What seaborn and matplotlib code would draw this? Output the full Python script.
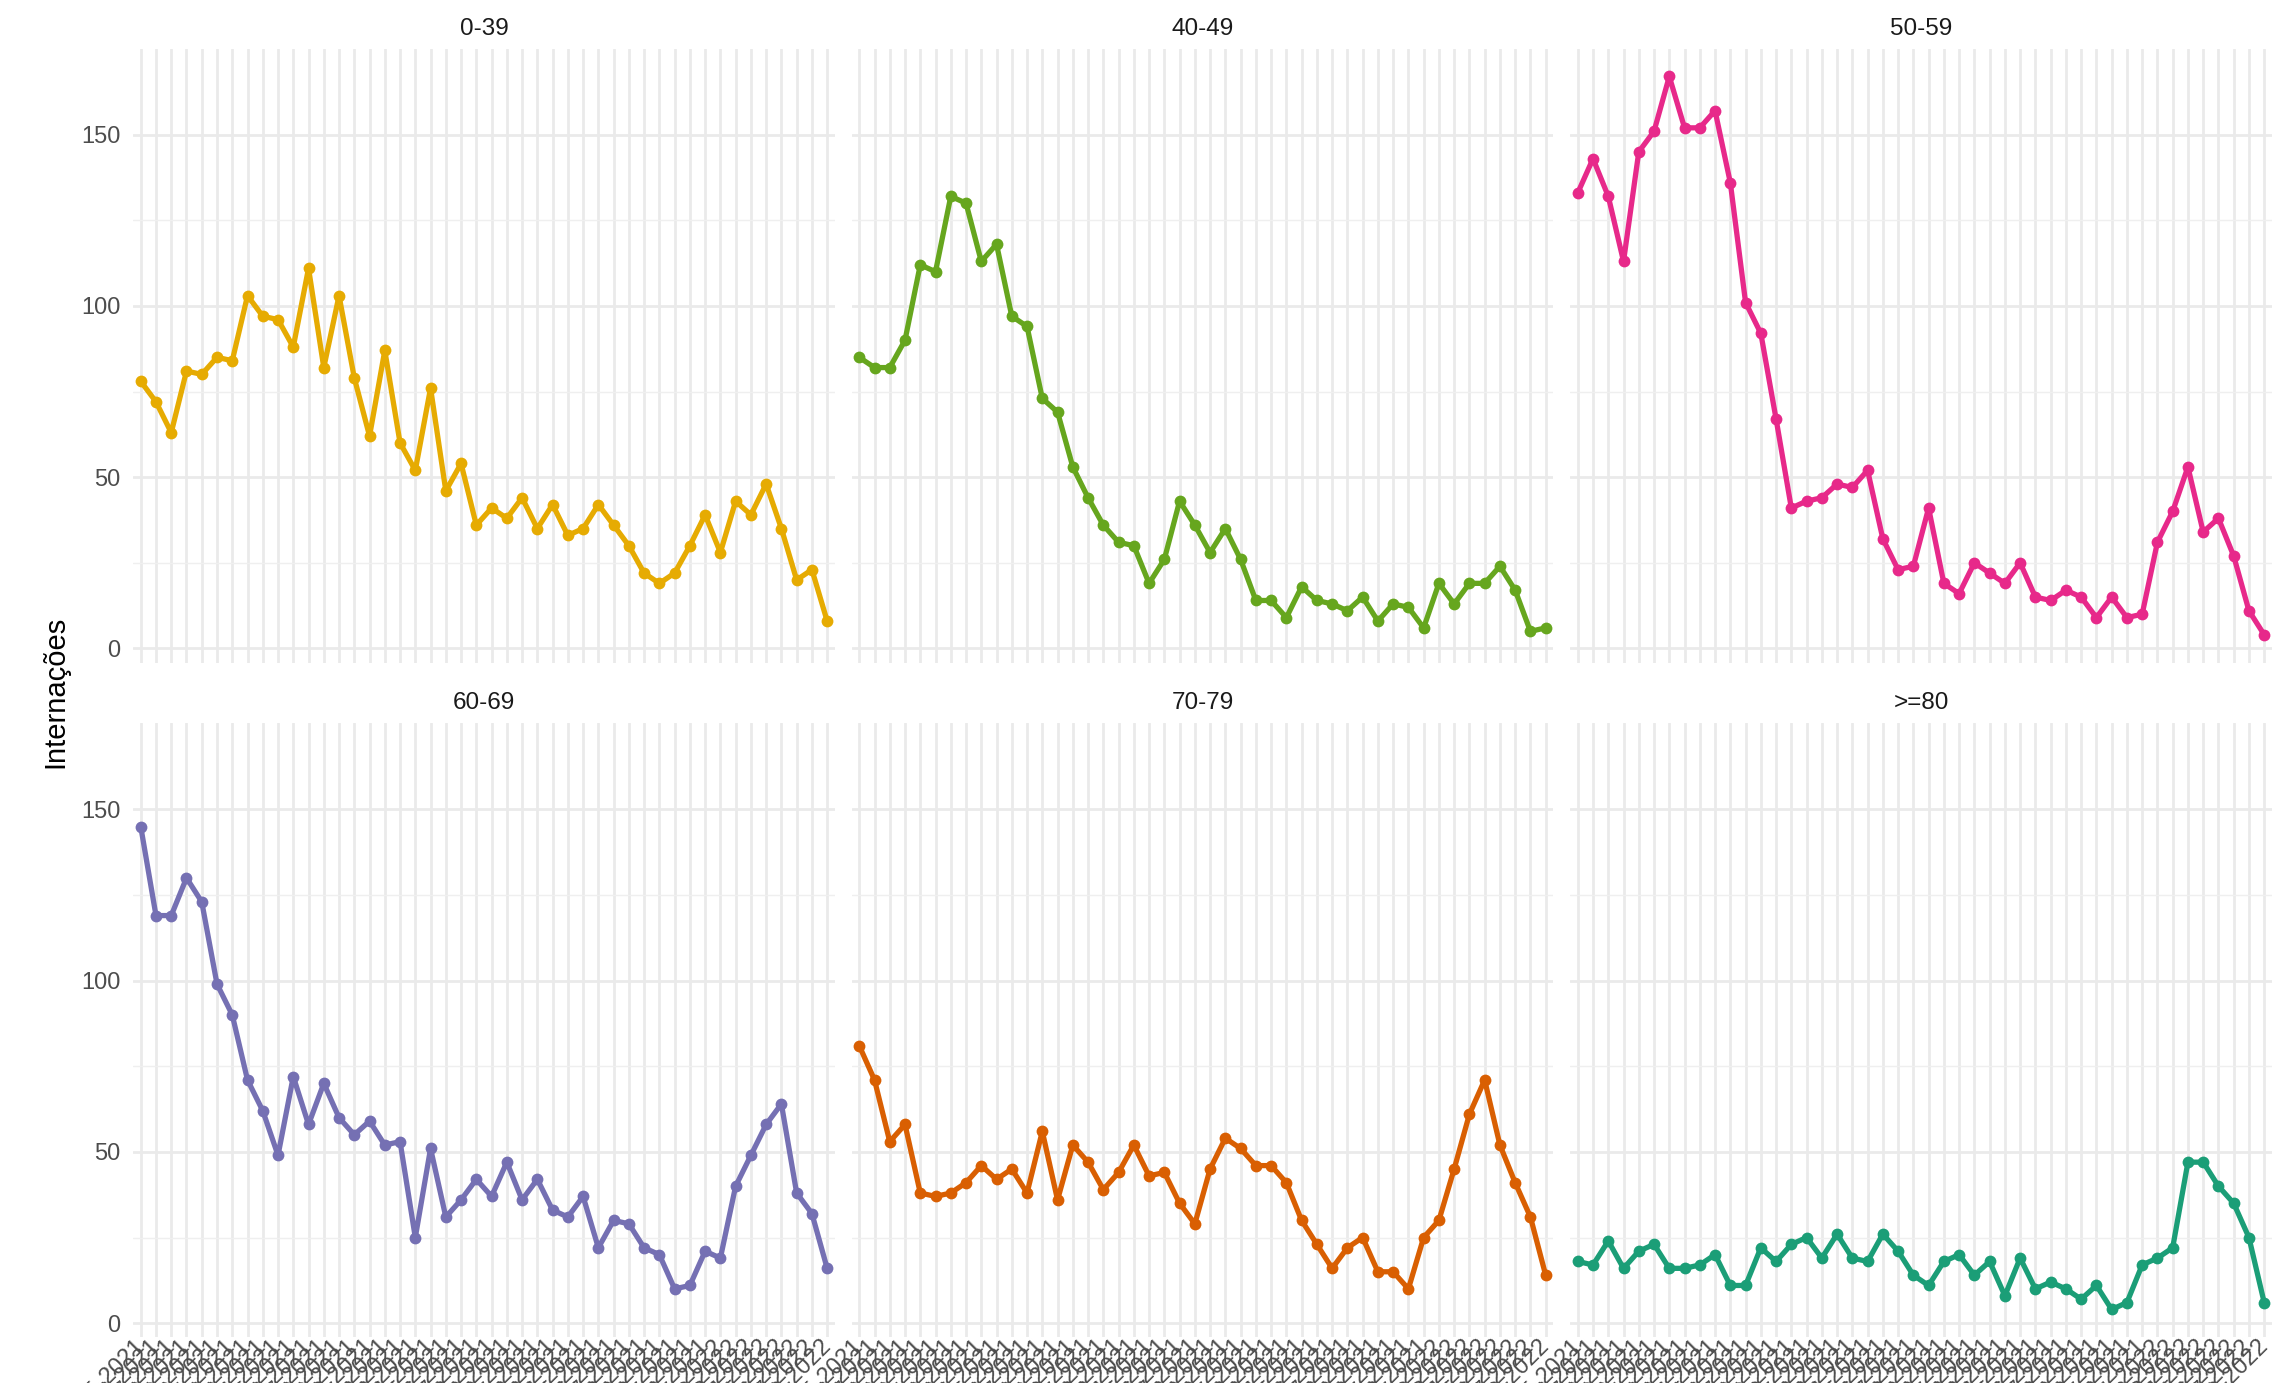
import numpy as np
import pandas as pd
import seaborn as sns
import matplotlib.pyplot as plt

# semanas epidemiologicas (15-2021 ate 8-2022)
semanas = [f'{w}-2021' for w in range(15, 53)] + [f'{w}-2022' for w in range(1, 9)]

faixas = ['0-39', '40-49', '50-59', '60-69', '70-79', '>=80']
cores = ['#E6AB02', '#66A61E', '#E7298A', '#7570B3', '#D95F02', '#1B9E77']

f_0_39 = [78, 72, 63, 81, 80, 85, 84, 103, 97, 96, 88, 111, 82, 103, 79, 62,
          87, 60, 52, 76, 46, 54, 36, 41, 38, 44, 35, 42, 33, 35, 42, 36,
          30, 22, 19, 22, 30, 39, 28, 43, 39, 48, 35, 20, 23, 8]
f_40_49 = [85, 82, 82, 90, 112, 110, 132, 130, 113, 118, 97, 94, 73, 69, 53, 44,
           36, 31, 30, 19, 26, 43, 36, 28, 35, 26, 14, 14, 9, 18, 14, 13,
           11, 15, 8, 13, 12, 6, 19, 13, 19, 19, 24, 17, 5, 6]
f_50_59 = [133, 143, 132, 113, 145, 151, 167, 152, 152, 157, 136, 101, 92, 67, 41, 43,
           44, 48, 47, 52, 32, 23, 24, 41, 19, 16, 25, 22, 19, 25, 15, 14,
           17, 15, 9, 15, 9, 10, 31, 40, 53, 34, 38, 27, 11, 4]
f_60_69 = [145, 119, 119, 130, 123, 99, 90, 71, 62, 49, 72, 58, 70, 60, 55, 59,
           52, 53, 25, 51, 31, 36, 42, 37, 47, 36, 42, 33, 31, 37, 22, 30,
           29, 22, 20, 10, 11, 21, 19, 40, 49, 58, 64, 38, 32, 16]
f_70_79 = [81, 71, 53, 58, 38, 37, 38, 41, 46, 42, 45, 38, 56, 36, 52, 47,
           39, 44, 52, 43, 44, 35, 29, 45, 54, 51, 46, 46, 41, 30, 23, 16,
           22, 25, 15, 15, 10, 25, 30, 45, 61, 71, 52, 41, 31, 14]
f_80 = [18, 17, 24, 16, 21, 23, 16, 16, 17, 20, 11, 11, 22, 18, 23, 25,
        19, 26, 19, 18, 26, 21, 14, 11, 18, 20, 14, 18, 8, 19, 10, 12,
        10, 7, 11, 4, 6, 17, 19, 22, 47, 47, 40, 35, 25, 6]

series = [f_0_39, f_40_49, f_50_59, f_60_69, f_70_79, f_80]

df = pd.concat([
    pd.DataFrame({'idx': np.arange(len(semanas)), 'semana': semanas,
                  'faixa': faixa, 'internacoes': valores})
    for faixa, valores in zip(faixas, series)
], ignore_index=True)

sns.set_theme(style='white')
plt.rcParams['font.family'] = ['Liberation Sans', 'DejaVu Sans']

g = sns.relplot(data=df, x='idx', y='internacoes', col='faixa', col_wrap=3,
                hue='faixa', palette=cores, kind='line', marker='o',
                linewidth=3.8, markersize=8.5, markeredgewidth=0,
                legend=False, height=6, aspect=1.15,
                facet_kws=dict(sharex=True, sharey=True))

fig = g.figure
fig.set_size_inches(22.95, 13.83)
g.set_titles('{col_name}', size=17.5, color='#1A1A1A', pad=10)
g.set_axis_labels('', '')

n = len(semanas)
for i, ax in enumerate(g.axes.flat):
    ax.set_xlim(-0.5, n - 0.5)
    ax.set_ylim(-4.15, 175.15)
    ax.set_yticks([0, 50, 100, 150])
    ax.set_yticks([25, 75, 125], minor=True)
    ax.set_xticks(range(n))
    ax.grid(which='major', color='#EAEAEA', linewidth=2.0)
    ax.grid(which='minor', axis='y', color='#EFEFEF', linewidth=1.0)
    ax.set_axisbelow(True)
    for s in ax.spines.values():
        s.set_visible(False)
    ax.tick_params(which='both', length=0, labelsize=17, labelcolor='#4D4D4D', pad=9)
    if i >= 3:
        ax.set_xticklabels(semanas, rotation=45, ha='right', va='center',
                           rotation_mode='anchor')
        ax.tick_params(axis='x', pad=4)
        ax.xaxis.set_tick_params(labelbottom=True)
    else:
        ax.xaxis.set_tick_params(labelbottom=False)

fig.text(0.0242, 0.5, 'Internações', rotation=90, ha='center', va='center',
         fontsize=21, color='black')

fig.subplots_adjust(left=0.058, right=0.9899, bottom=0.033, top=0.9649,
                    wspace=0.024, hspace=0.0987)
fig.savefig('out.png', dpi=100)
